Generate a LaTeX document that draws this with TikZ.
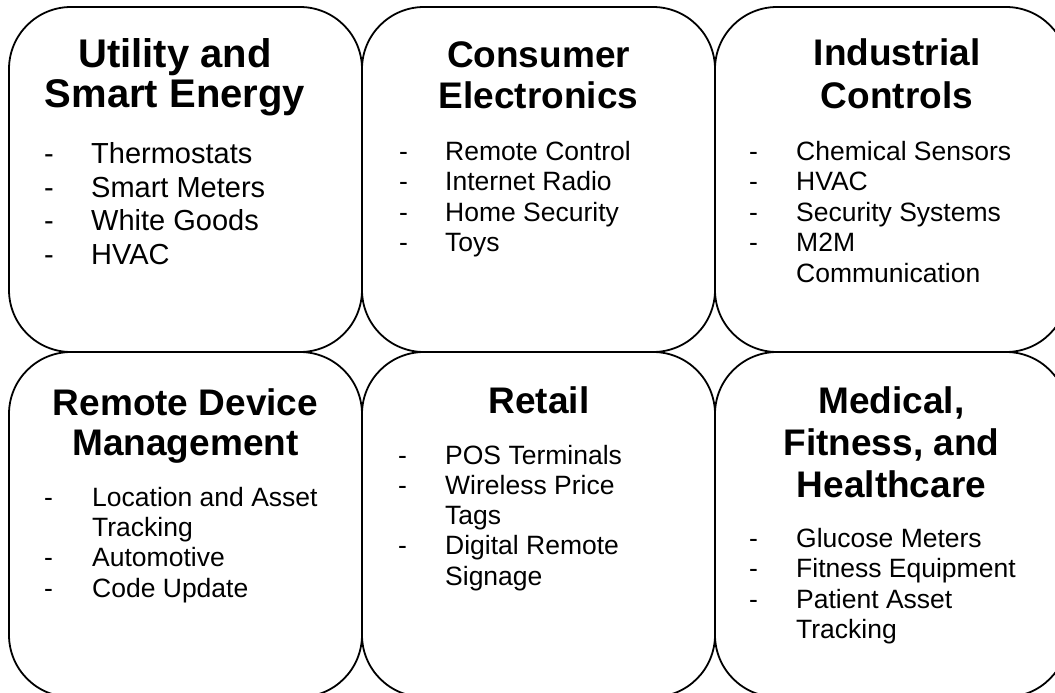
\documentclass[tikz,border=0pt]{standalone}
\usepackage{fontspec}
\setmainfont{Liberation Sans}
\begin{document}
\begin{tikzpicture}[x=1pt,y=-1pt,
  card/.style={draw=black,line width=1.8pt,rounded corners=62pt,minimum width=353pt,minimum height=345pt,inner sep=0pt,outer sep=0pt,fill=none},
  ttl/.style={anchor=base,inner sep=0pt,font=\bfseries\fontsize{37}{41}\selectfont},
  ttlbig/.style={anchor=base,inner sep=0pt,font=\bfseries\fontsize{40}{45}\selectfont},
  itm/.style={anchor=base west,inner sep=0pt,font=\fontsize{26.5}{30}\selectfont},
  itmbig/.style={anchor=base west,inner sep=0pt,font=\fontsize{29}{33}\selectfont}]
\useasboundingbox (0,0) rectangle (1055,693);
\clip (0,0) rectangle (1055,693);
\fill[white] (0,0) rectangle (1055,693);
% cards
\node[card] (b1) at (185.5,179.5) {};
\node[card] (b2) at (538.5,179.5) {};
\node[card] (b3) at (891.5,179.5) {};
\node[card] (b4) at (185.5,524.5) {};
\node[card] (b5) at (538.5,524.5) {};
\node[card] (b6) at (891.5,524.5) {};
% box 1
\node[ttlbig] (t1a) at (175,68) {Utility and};
\node[ttlbig] (t1b) at (175,107) {Smart Energy};
\node[itmbig] (d1a) at (44,163) {-};
\node[itmbig] (i1a) at (91,163) {Thermostats};
\node[itmbig] (d1b) at (44,197) {-};
\node[itmbig] (i1b) at (91,197) {Smart Meters};
\node[itmbig] (d1c) at (44,230.5) {-};
\node[itmbig] (i1c) at (91,230.5) {White Goods};
\node[itmbig] (d1d) at (44,264) {-};
\node[itmbig] (i1d) at (91,264) {HVAC};
% box 2
\node[ttl] (t2a) at (538.5,67) {Consumer};
\node[ttl] (t2b) at (538.5,108) {Electronics};
\node[itm] (d2a) at (399,160) {-};
\node[itm] (i2a) at (445,160) {Remote Control};
\node[itm] (d2b) at (399,190.5) {-};
\node[itm] (i2b) at (445,190.5) {Internet Radio};
\node[itm] (d2c) at (399,221) {-};
\node[itm] (i2c) at (445,221) {Home Security};
\node[itm] (d2d) at (399,251.5) {-};
\node[itm] (i2d) at (445,251.5) {Toys};
% box 3
\node[ttl] (t3a) at (897,66) {Industrial};
\node[ttl] (t3b) at (897,108) {Controls};
\node[itm] (d3a) at (749,160) {-};
\node[itm] (i3a) at (796,160) {Chemical Sensors};
\node[itm] (d3b) at (749,190.5) {-};
\node[itm] (i3b) at (796,190.5) {HVAC};
\node[itm] (d3c) at (749,221) {-};
\node[itm] (i3c) at (796,221) {Security Systems};
\node[itm] (d3d) at (749,251.5) {-};
\node[itm] (i3d) at (796,251.5) {M2M};
\node[itm] (i3e) at (796,282) {Communication};
% box 4
\node[ttl] (t4a) at (185.5,415) {Remote Device};
\node[ttl] (t4b) at (185.5,455) {Management};
\node[itm] (d4a) at (44,506) {-};
\node[itm] (i4a) at (92,506) {Location and Asset};
\node[itm] (i4b) at (92,536.3) {Tracking};
\node[itm] (d4c) at (44,566.6) {-};
\node[itm] (i4c) at (92,566.6) {Automotive};
\node[itm] (d4d) at (44,597) {-};
\node[itm] (i4d) at (92,597) {Code Update};
% box 5
\node[ttl] (t5a) at (539,413) {Retail};
\node[itm] (d5a) at (398,464) {-};
\node[itm] (i5a) at (445,464) {POS Terminals};
\node[itm] (d5b) at (398,494.3) {-};
\node[itm] (i5b) at (445,494.3) {Wireless Price};
\node[itm] (i5c) at (445,524.5) {Tags};
\node[itm] (d5d) at (398,554.8) {-};
\node[itm] (i5d) at (445,554.8) {Digital Remote};
\node[itm] (i5e) at (445,585) {Signage};
% box 6
\node[ttl] (t6a) at (891.5,413) {Medical,};
\node[ttl] (t6b) at (891.5,455) {Fitness, and};
\node[ttl] (t6c) at (891.5,497) {Healthcare};
\node[itm] (d6a) at (749,547) {-};
\node[itm] (i6a) at (796,547) {Glucose Meters};
\node[itm] (d6b) at (749,577.5) {-};
\node[itm] (i6b) at (796,577.5) {Fitness Equipment};
\node[itm] (d6c) at (749,608) {-};
\node[itm] (i6c) at (796,608) {Patient Asset};
\node[itm] (i6d) at (796,638) {Tracking};
\end{tikzpicture}
\end{document}
